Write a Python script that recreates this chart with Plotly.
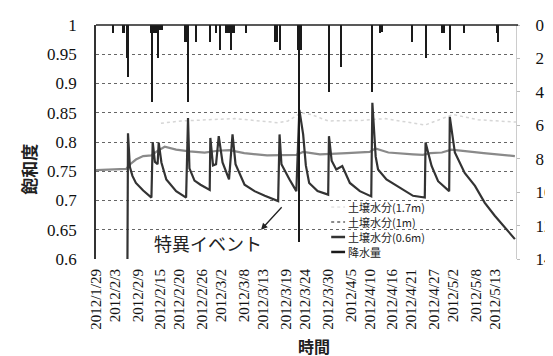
import plotly.graph_objects as go

# ---- data ----
tick_dates = ["2012-01-29", "2012-02-03", "2012-02-09", "2012-02-15", "2012-02-20",
              "2012-02-26", "2012-03-02", "2012-03-08", "2012-03-13", "2012-03-19",
              "2012-03-24", "2012-03-30", "2012-04-05", "2012-04-10", "2012-04-16",
              "2012-04-21", "2012-04-27", "2012-05-02", "2012-05-08", "2012-05-13"]
tick_labels = ["2012/1/29", "2012/2/3", "2012/2/9", "2012/2/15", "2012/2/20",
               "2012/2/26", "2012/3/2", "2012/3/8", "2012/3/13", "2012/3/19",
               "2012/3/24", "2012/3/30", "2012/4/5", "2012/4/10", "2012/4/16",
               "2012/4/21", "2012/4/27", "2012/5/2", "2012/5/8", "2012/5/13"]

sm06_t = ["2012-02-06 05:00", "2012-02-06 10:00", "2012-02-06 22:00", "2012-02-07 14:00",
          "2012-02-08 12:00", "2012-02-10 10:00", "2012-02-12 14:00", "2012-02-12 22:00",
          "2012-02-13 12:00", "2012-02-14 05:00", "2012-02-14 12:00", "2012-02-15 05:00",
          "2012-02-16 12:00", "2012-02-19 02:00", "2012-02-21 17:00", "2012-02-22 05:00",
          "2012-02-22 14:00", "2012-02-23 22:00", "2012-02-25 12:00", "2012-02-27 22:00",
          "2012-02-28 02:00", "2012-02-28 19:00", "2012-02-29 14:00", "2012-03-01 07:00",
          "2012-03-02 07:00", "2012-03-04 00:00", "2012-03-04 22:00", "2012-03-05 17:00",
          "2012-03-08 02:00", "2012-03-10 17:00", "2012-03-13 10:00", "2012-03-16 22:00",
          "2012-03-17 07:00", "2012-03-17 19:00", "2012-03-19 22:00", "2012-03-21 17:00",
          "2012-03-22 12:00", "2012-03-23 12:00", "2012-03-24 05:00", "2012-03-25 02:00",
          "2012-03-27 07:00", "2012-03-30 02:00", "2012-03-30 07:00", "2012-03-31 00:00",
          "2012-04-01 05:00", "2012-04-02 19:00", "2012-04-04 19:00", "2012-04-07 10:00",
          "2012-04-10 10:00", "2012-04-10 17:00", "2012-04-11 14:00", "2012-04-12 05:00",
          "2012-04-14 10:00", "2012-04-17 22:00", "2012-04-21 10:00", "2012-04-24 12:00",
          "2012-04-24 17:00", "2012-04-26 07:00", "2012-04-28 00:00", "2012-04-30 22:00",
          "2012-05-01 02:00", "2012-05-02 10:00", "2012-05-05 00:00", "2012-05-07 17:00",
          "2012-05-10 07:00", "2012-05-12 22:00", "2012-05-15 14:00", "2012-05-18 05:00"]
sm06_v = [0.50, 0.815, 0.757, 0.742,
          0.730, 0.717, 0.705, 0.800,
          0.766, 0.762, 0.799, 0.765,
          0.736, 0.716, 0.705, 0.841,
          0.755, 0.734, 0.727, 0.718,
          0.807, 0.760, 0.762, 0.810,
          0.765, 0.736, 0.813, 0.762,
          0.727, 0.716, 0.708, 0.699,
          0.813, 0.762, 0.736, 0.716,
          0.855, 0.813, 0.760, 0.730,
          0.716, 0.710, 0.810, 0.768,
          0.753, 0.759, 0.730, 0.716,
          0.707, 0.867, 0.775, 0.753,
          0.736, 0.722, 0.708, 0.705,
          0.799, 0.759, 0.733, 0.716,
          0.843, 0.782, 0.747, 0.725,
          0.696, 0.674, 0.654, 0.634]

sm1_t = ["2012-01-29 00:00", "2012-02-02 00:00", "2012-02-05 22:00", "2012-02-07 00:00",
         "2012-02-08 12:00", "2012-02-10 10:00", "2012-02-12 14:00", "2012-02-14 00:00",
         "2012-02-16 02:00", "2012-02-19 02:00", "2012-02-22 14:00", "2012-02-26 14:00",
         "2012-03-01 00:00", "2012-03-04 02:00", "2012-03-08 00:00", "2012-03-14 00:00",
         "2012-03-19 00:00", "2012-03-21 17:00", "2012-03-23 12:00", "2012-03-27 22:00",
         "2012-04-04 00:00", "2012-04-10 00:00", "2012-04-11 12:00", "2012-04-14 22:00",
         "2012-04-21 10:00", "2012-04-24 00:00", "2012-04-26 00:00", "2012-04-29 00:00",
         "2012-05-01 12:00", "2012-05-05 00:00", "2012-05-10 00:00", "2012-05-18 05:00"]
sm1_v = [0.752, 0.753, 0.754, 0.762,
         0.770, 0.776, 0.777, 0.784,
         0.792, 0.787, 0.784, 0.782,
         0.785, 0.786, 0.781, 0.777,
         0.777, 0.778, 0.783, 0.779,
         0.781, 0.783, 0.789, 0.782,
         0.779, 0.778, 0.781, 0.782,
         0.787, 0.784, 0.781, 0.776]

sm17_t = ["2012-02-15 02:00", "2012-02-20 10:00", "2012-02-27 12:00", "2012-03-05 14:00",
          "2012-03-13 12:00", "2012-03-16 22:00", "2012-03-19 12:00", "2012-03-23 00:00",
          "2012-03-25 14:00", "2012-03-30 02:00", "2012-04-08 07:00", "2012-04-14 02:00",
          "2012-04-24 14:00", "2012-05-01 22:00", "2012-05-08 12:00", "2012-05-18 12:00"]
sm17_v = [0.832, 0.836, 0.838, 0.840,
          0.835, 0.833, 0.836, 0.850,
          0.847, 0.836, 0.837, 0.840,
          0.829, 0.847, 0.838, 0.834]

rain_t = ["2012-02-02 12:00", "2012-02-05 07:00", "2012-02-05 12:00", "2012-02-06 05:00",
          "2012-02-06 10:00", "2012-02-12 14:00", "2012-02-12 22:00", "2012-02-13 07:00",
          "2012-02-13 19:00", "2012-02-14 12:00", "2012-02-15 00:00", "2012-02-15 10:00",
          "2012-02-21 10:00", "2012-02-21 22:00", "2012-02-22 05:00", "2012-02-24 07:00",
          "2012-02-28 00:00", "2012-02-29 14:00", "2012-03-01 14:00", "2012-03-03 05:00",
          "2012-03-03 14:00", "2012-03-04 00:00", "2012-03-04 12:00", "2012-03-05 00:00",
          "2012-03-05 07:00", "2012-03-08 12:00", "2012-03-16 02:00", "2012-03-16 14:00",
          "2012-03-17 10:00", "2012-03-22 05:00", "2012-03-22 14:00", "2012-03-22 22:00",
          "2012-03-30 07:00", "2012-04-02 12:00", "2012-04-10 14:00", "2012-04-12 17:00",
          "2012-04-13 05:00", "2012-04-21 05:00", "2012-04-24 19:00", "2012-04-29 02:00",
          "2012-04-29 14:00", "2012-05-01 05:00", "2012-05-04 19:00", "2012-05-13 12:00",
          "2012-05-13 19:00"]
rain_v = [0.5, 0.5, 0.5, 2.0,
          3.1, 0.5, 4.6, 0.5,
          0.5, 2.0, 0.3, 0.3,
          1.0, 1.0, 4.6, 1.0,
          1.0, 0.5, 1.5, 0.5,
          0.5, 0.5, 1.5, 0.5,
          0.5, 0.5, 1.0, 1.0,
          1.5, 1.5, 13.0, 1.5,
          4.0, 2.5, 4.0, 0.5,
          0.4, 1.0, 2.0, 0.5,
          0.5, 1.5, 0.5, 0.5,
          1.0]

legend_names = ["土壌水分(1.7m)", "土壌水分(1m)", "土壌水分(0.6m)", "降水量"]

# annotation of the singular event (arrow from curve toward label)
event_label = "特異イベント"
event_arrow_head = ("2012-03-12 10:00", 0.650)
event_arrow_tail = ("2012-03-18 05:00", 0.691)

# ---- figure ----
SERIF = "Liberation Serif, Times New Roman, serif"
CJK = "Noto Sans CJK JP"
c17, c1, c06, crain = "#d6d6d6", "#8a8a8a", "#333333", "#1a1a1a"

fig = go.Figure()
fig.add_trace(go.Scatter(x=sm17_t, y=sm17_v, mode="lines", name=legend_names[0],
                         line=dict(color=c17, width=1.5, dash="dot")))
fig.add_trace(go.Scatter(x=sm1_t, y=sm1_v, mode="lines", name=legend_names[1],
                         line=dict(color=c1, width=2.2)))
fig.add_trace(go.Scatter(x=sm06_t, y=sm06_v, mode="lines", name=legend_names[2],
                         line=dict(color=c06, width=2.2)))
fig.add_trace(go.Bar(x=rain_t, y=rain_v, name=legend_names[3], yaxis="y2",
                     width=0.4 * 86400000, marker=dict(color=crain, line=dict(width=0))))

grid = "#666666"
fig.update_layout(
    width=553, height=356,
    margin=dict(l=88, r=45, t=17, b=105, autoexpand=False),
    paper_bgcolor="white", plot_bgcolor="white",
    showlegend=False, bargap=0,
    xaxis=dict(type="date", range=["2012-01-29", "2012-05-18 12:00"], automargin=False,
               tickmode="array", tickvals=tick_dates, ticktext=tick_labels,
               tickangle=-90, showgrid=False, zeroline=False, ticks="",
               ticklabelstandoff=6,
               tickfont=dict(family=SERIF, size=15, color="#111")),
    yaxis=dict(range=[0.6, 1.0], tickmode="array", automargin=False,
               tickvals=[0.6, 0.65, 0.7, 0.75, 0.8, 0.85, 0.9, 0.95, 1.0],
               ticktext=["0.6", "0.65", "0.7", "0.75", "0.8", "0.85", "0.9", "0.95", "1"],
               showgrid=True, gridcolor=grid, griddash="dot", gridwidth=1,
               zeroline=False, showline=True, linecolor="#333", linewidth=1.5,
               ticks="", ticklabelstandoff=14,
               tickfont=dict(family=SERIF, size=17, color="#111")),
    yaxis2=dict(overlaying="y", side="right", range=[14, 0], automargin=False,
                tickvals=[0, 2, 4, 6, 8, 10, 12, 14], showgrid=False, zeroline=False,
                showline=True, linecolor="#cccccc", linewidth=1,
                ticks="outside", ticklen=3, tickcolor="#bbbbbb",
                ticklabelstandoff=12,
                tickfont=dict(family=SERIF, size=17, color="#111")),
)

# top line (precipitation zero baseline)
fig.add_shape(type="line", xref="paper", yref="paper", x0=0, x1=1.005, y0=1, y1=1,
              line=dict(color="#222", width=1.5))

# axis titles
fig.add_annotation(text="<b>飽和度</b>", xref="paper", yref="paper", x=-0.16, y=0.385,
                   xanchor="center", yanchor="middle",
                   textangle=-90, showarrow=False,
                   font=dict(family=CJK, size=17, color="#222"))
fig.add_annotation(text="<b>時間</b>", xref="paper", yref="paper", x=0.519, y=-0.37,
                   xanchor="center", yanchor="middle",
                   showarrow=False, font=dict(family=CJK, size=16, color="#222"))

# event annotation
fig.add_annotation(text=event_label, xref="paper", yref="paper", x=0.267, y=0.068,
                   xanchor="center", yanchor="middle",
                   showarrow=False, font=dict(family=CJK, size=18, color="#222"))
fig.add_annotation(text="", xref="x", yref="y", axref="x", ayref="y",
                   x=event_arrow_head[0], y=event_arrow_head[1],
                   ax=event_arrow_tail[0], ay=event_arrow_tail[1],
                   showarrow=True, arrowhead=2, arrowsize=1,
                   arrowwidth=1.3, arrowcolor="#222")

# manual legend
leg_y = [0.222, 0.158, 0.094, 0.030]
leg_c = [c17, c1, c06, crain]
leg_w = [1, 2, 2.5, 2.5]
leg_d = ["dot", "dot", "solid", "solid"]
for name, yy, cc, ww, dd in zip(legend_names, leg_y, leg_c, leg_w, leg_d):
    fig.add_shape(type="line", xref="paper", yref="paper", x0=0.560, x1=0.593,
                  y0=yy, y1=yy, line=dict(color=cc, width=ww, dash=dd))
    fig.add_annotation(text=name, xref="paper", yref="paper", x=0.595, y=yy,
                       xanchor="left", yanchor="middle", showarrow=False,
                       font=dict(family=CJK, size=11, color="#222"))

fig.write_html("out.html")
